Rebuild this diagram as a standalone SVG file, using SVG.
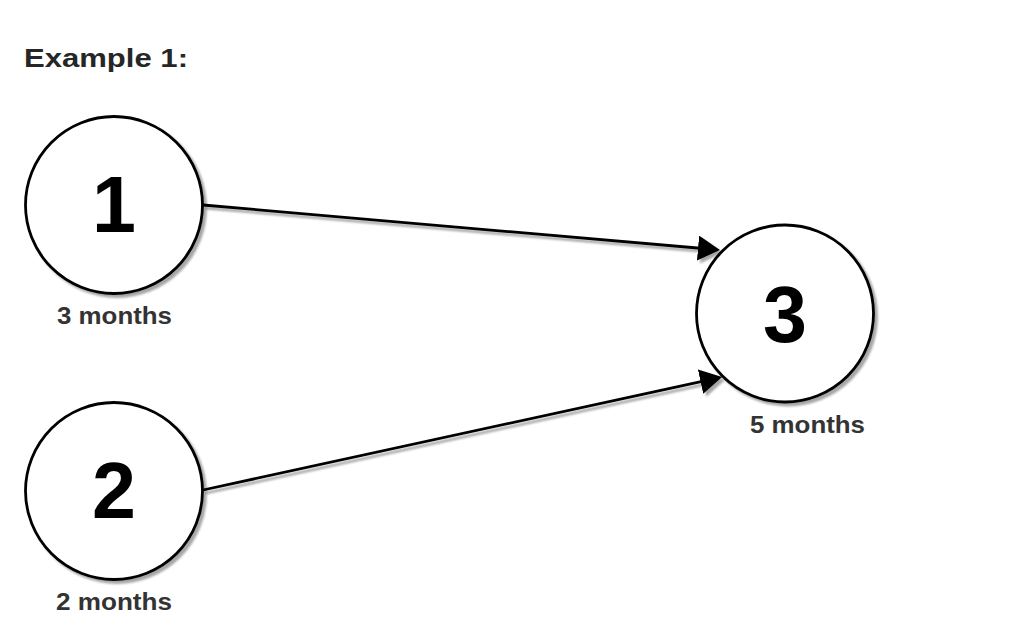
<svg xmlns="http://www.w3.org/2000/svg" width="1036" height="634" viewBox="0 0 1036 634">
<style>
.node circle{fill:#fff;stroke:#000;stroke-width:2.8}
.num{font-family:"Liberation Sans",Arial,sans-serif;font-weight:bold;font-size:79px;fill:#000;text-anchor:middle}
.lbl{font-family:"Liberation Sans",Arial,sans-serif;font-weight:bold;font-size:24px;fill:#333}
.edge{stroke:#000;stroke-width:2.8;fill:none}
.title{font-family:"Liberation Sans",Arial,sans-serif;font-weight:bold;font-size:26.5px;fill:#262626}
</style>
<defs>
<filter id="sh" x="-20%" y="-20%" width="140%" height="140%">
<feGaussianBlur in="SourceAlpha" stdDeviation="1.2"/>
<feOffset dx="3" dy="3"/>
<feComponentTransfer><feFuncA type="linear" slope="0.35"/></feComponentTransfer>
<feMerge><feMergeNode/><feMergeNode in="SourceGraphic"/></feMerge>
</filter>
<marker id="arr" markerUnits="userSpaceOnUse" viewBox="0 0 22 25" refX="11" refY="12.5" markerWidth="22" markerHeight="25" orient="auto">
<path d="M0,0 L22,12.5 L0,25 Z" fill="#000"/>
</marker>
</defs>
<rect width="1036" height="634" fill="#fff"/>
<text class="title" x="24" y="66.5" textLength="164" lengthAdjust="spacingAndGlyphs">Example 1:</text>
<g id="connectors" filter="url(#sh)">
<line class="edge" x1="203" y1="205" x2="709" y2="249" marker-end="url(#arr)"/>
<line class="edge" x1="203" y1="490" x2="711.3" y2="379.3" marker-end="url(#arr)"/>
</g>
<g id="node1" class="node">
<circle cx="114" cy="205" r="88.5" filter="url(#sh)"/>
<text class="num" x="114" y="232">1</text>
<text class="lbl" x="57" y="323.5" textLength="115" lengthAdjust="spacingAndGlyphs">3 months</text>
</g>
<g id="node2" class="node">
<circle cx="114" cy="491" r="88.5" filter="url(#sh)"/>
<text class="num" x="114" y="518">2</text>
<text class="lbl" x="56" y="610" textLength="116" lengthAdjust="spacingAndGlyphs">2 months</text>
</g>
<g id="node3" class="node">
<circle cx="785" cy="313.5" r="88.5" filter="url(#sh)"/>
<text class="num" x="785" y="342">3</text>
<text class="lbl" x="750" y="433" textLength="115" lengthAdjust="spacingAndGlyphs">5 months</text>
</g>
</svg>
